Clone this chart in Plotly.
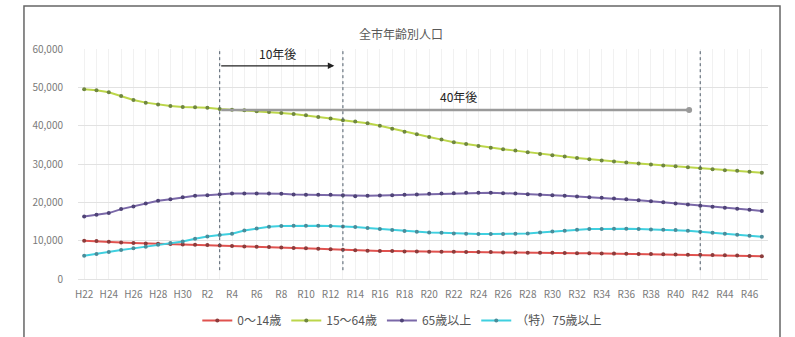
import plotly.graph_objects as go

# ---- data ----
categories = (["H22", "H23", "H24", "H25", "H26", "H27", "H28", "H29", "H30", "R1"]
              + [f"R{i}" for i in range(2, 48)])

age_0_14 = [9980, 9900, 9720, 9550, 9380, 9290, 9200, 9110, 9030, 8940,
            8850, 8770, 8590, 8510, 8420, 8330, 8250, 8070, 7990, 7900,
            7730, 7600, 7470, 7380, 7290, 7290, 7200, 7200, 7120, 7120,
            7120, 7030, 7030, 7030, 6940, 6940, 6860, 6860, 6860, 6770,
            6740, 6700, 6660, 6620, 6580, 6540, 6490, 6450, 6400, 6350,
            6300, 6250, 6180, 6100, 6010, 5920]

age_15_64 = [49480, 49220, 48700, 47740, 46700, 46010, 45490, 45140, 44880, 44790,
             44700, 44360, 44180, 44010, 43750, 43580, 43320, 43060, 42710, 42270,
             41840, 41400, 41100, 40620, 40000, 39220, 38440, 37750, 37060, 36360,
             35670, 35230, 34710, 34270, 33850, 33490, 33070, 32630, 32290, 31940,
             31590, 31250, 30900, 30640, 30380, 30120, 29860, 29600, 29430, 29170,
             28910, 28650, 28390, 28210, 27950, 27690]

age_65_over = [16320, 16750, 17190, 18230, 18920, 19700, 20400, 20830, 21350, 21700,
               21875, 22140, 22310, 22310, 22310, 22310, 22220, 22050, 21960, 21960,
               21960, 21875, 21610, 21700, 21790, 21875, 21960, 22050, 22220, 22310,
               22400, 22480, 22480, 22480, 22400, 22310, 22140, 21960, 21875, 21700,
               21530, 21350, 21180, 21010, 20830, 20570, 20310, 20050, 19700, 19440,
               19100, 18840, 18580, 18320, 18060, 17710]

age_75_over = [6080, 6510, 7030, 7550, 7990, 8420, 8940, 9380, 9810, 10500,
               11110, 11460, 11810, 12670, 13190, 13630, 13800, 13890, 13890, 13890,
               13800, 13720, 13540, 13280, 13020, 12760, 12500, 12330, 12150, 12070,
               11890, 11810, 11720, 11720, 11720, 11810, 11890, 12150, 12410, 12590,
               12850, 13020, 13020, 13110, 13110, 13020, 12930, 12850, 12760, 12590,
               12330, 12070, 11810, 11550, 11280, 11020]

series_names = ["0〜14歳", "15〜64歳", "65歳以上", "（特）75歳以上"]
tick_labels = [c if i % 2 == 0 else "" for i, c in enumerate(categories)]

marker_years = ["R3", "R13", "R42"]
title_text = "全市年齢別人口"

# ---- figure ----
line_colors = ["#e0524f", "#bcd64a", "#7a68a8", "#3fd0e0"]
marker_colors = ["#8c3b3b", "#6f8640", "#4f4377", "#4a8c99"]
values = [age_0_14, age_15_64, age_65_over, age_75_over]

fig = go.Figure()
for name, vals, lc, mc in zip(series_names, values, line_colors, marker_colors):
    fig.add_trace(go.Scatter(
        x=categories, y=vals, name=name, mode="lines+markers",
        line=dict(color=lc, width=2),
        marker=dict(color=mc, size=4),
    ))

font_family = "Noto Sans CJK JP, Noto Sans, sans-serif"

fig.update_layout(
    width=795, height=337,
    margin=dict(l=78, r=27, t=49, b=58, autoexpand=False),
    paper_bgcolor="white", plot_bgcolor="white",
    font=dict(family=font_family, color="#777", size=10),
    showlegend=True,
    legend=dict(orientation="h", x=0.47, xanchor="center", y=-0.18, yanchor="middle",
                font=dict(size=12, color="#555"), itemwidth=30, tracegroupgap=0),
    hovermode=False,
)

fig.update_xaxes(
    type="category", range=[-0.5, len(categories) - 0.5],
    tickmode="array", tickvals=categories, ticktext=tick_labels,
    showgrid=True, gridcolor="#f1f1f1", gridwidth=1,
    ticks="outside", ticklen=6, tickcolor="rgba(0,0,0,0)",
    tickfont=dict(size=10, color="#7a7a7a"), tickangle=0,
    showline=False, zeroline=False,
)
fig.update_yaxes(
    range=[0, 60000], tick0=0, dtick=10000, tickformat=",",
    showgrid=True, gridcolor="#e2e2e2", gridwidth=1,
    zeroline=True, zerolinecolor="#e2e2e2", zerolinewidth=1,
    ticks="outside", ticklen=12, tickcolor="rgba(0,0,0,0)",
    tickfont=dict(size=10, color="#7a7a7a"), showline=False,
)

# vertical dotted reference lines
for yr in marker_years:
    xi = categories.index(yr)
    fig.add_shape(type="line", xref="x", yref="y", x0=xi, x1=xi, y0=2300, y1=60000,
                  line=dict(color="#4d5b69", width=1, dash="dot"), layer="above")

start = categories.index(marker_years[0])

# 10年後 arrow
fig.add_annotation(x=20.3, y=55600, ax=start, ay=55600, xref="x", yref="y",
                   axref="x", ayref="y", text="", showarrow=True,
                   arrowhead=2, arrowsize=1, arrowwidth=1.3, arrowcolor="#222")
fig.add_annotation(x=15.7, y=58900, xref="x", yref="y", text="10年後", showarrow=False,
                   font=dict(size=12, color="#222"))

# 40年後 arrow
fig.add_annotation(x=49.1, y=44100, ax=start, ay=44100, xref="x", yref="y",
                   axref="x", ayref="y", text="", showarrow=True,
                   arrowhead=6, arrowsize=0.6, arrowwidth=2.5, arrowcolor="#9a9a9a")
fig.add_annotation(x=30.4, y=47700, xref="x", yref="y", text="40年後", showarrow=False,
                   font=dict(size=12, color="#222"))

# title
fig.add_annotation(x=0.468, y=1.113, xref="paper", yref="paper", text=title_text,
                   showarrow=False, font=dict(size=12, color="#595959"))

# chart border
fig.add_shape(type="rect", xref="paper", yref="paper",
              x0=-0.0783, x1=1.0174, y0=-0.27, y1=1.1867,
              line=dict(color="#666", width=1.5), fillcolor="rgba(0,0,0,0)", layer="below")

fig.write_html("out.html")
